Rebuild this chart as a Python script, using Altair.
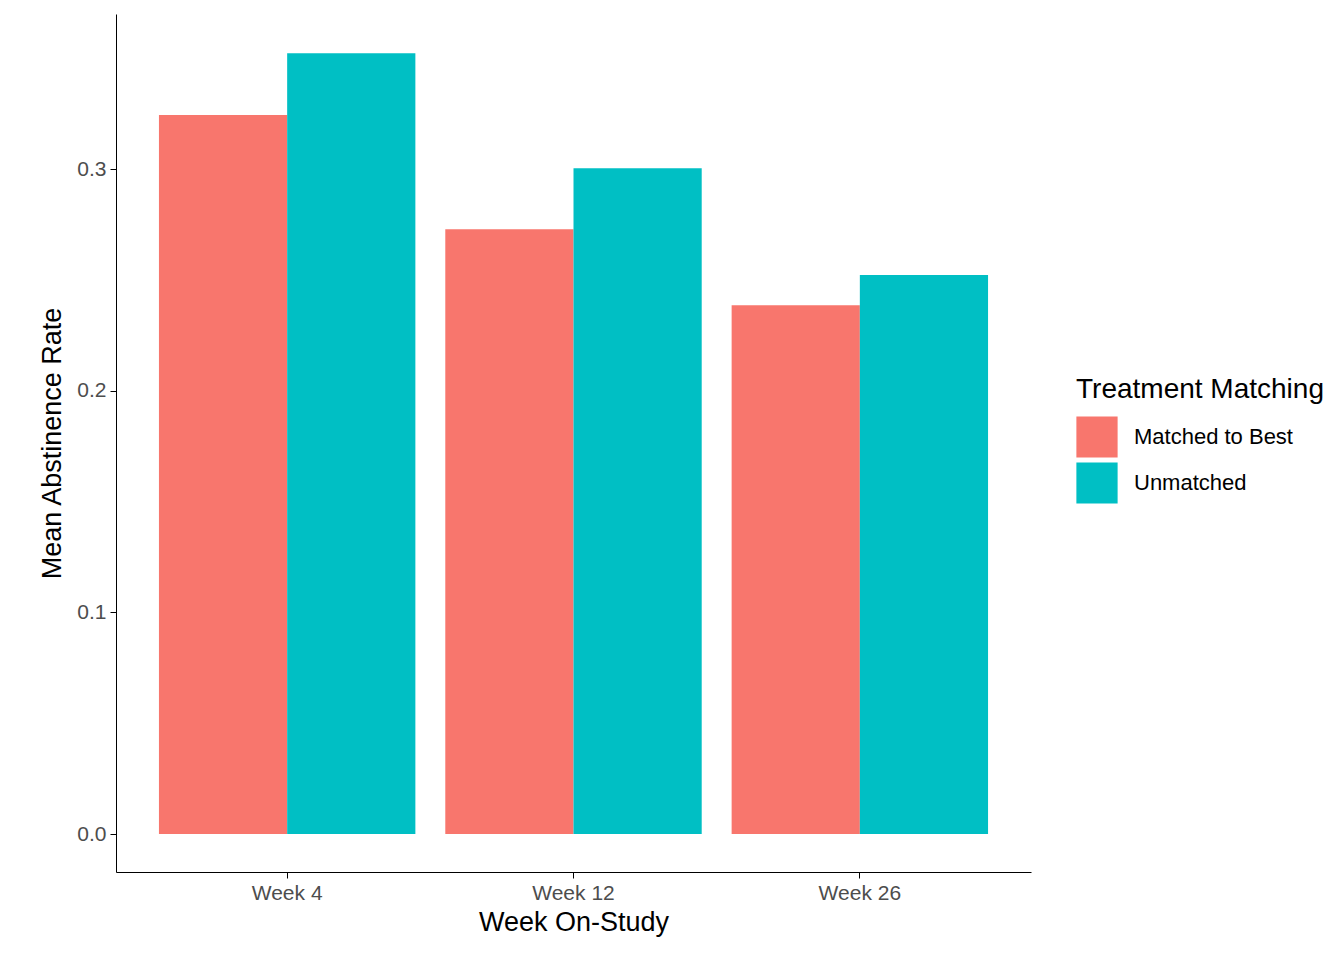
import altair as alt
import pandas as pd

weeks = ["Week 4", "Week 12", "Week 26"]
matched = [0.3244, 0.2729, 0.2386]
unmatched = [0.3523, 0.3004, 0.2522]

rows = []
for w, m, u in zip(weeks, matched, unmatched):
    rows.append({"week": w, "group": "Matched to Best", "rate": m})
    rows.append({"week": w, "group": "Unmatched", "rate": u})
df = pd.DataFrame(rows)

chart = alt.Chart(df).mark_bar().encode(
    x=alt.X("week:N", sort=weeks, title="Week On-Study",
            scale=alt.Scale(paddingInner=0.1045, paddingOuter=0.15),
            axis=alt.Axis(labelAngle=0, labelFontSize=21, titleFontSize=27,
                          labelColor="#4d4d4d", titleFontWeight="normal", titleColor="black",
                          domainColor="black", tickColor="black", tickSize=6,
                          labelPadding=4, titlePadding=6)),
    xOffset=alt.XOffset("group:N"),
    y=alt.Y("rate:Q", title="Mean Abstinence Rate",
            scale=alt.Scale(domain=[-0.0171, 0.370], nice=False, zero=False),
            axis=alt.Axis(values=[0, 0.1, 0.2, 0.3], format=".1f", grid=False,
                          labelFontSize=21, titleFontSize=27, labelColor="#4d4d4d",
                          titleFontWeight="normal", titleColor="black", domainColor="black",
                          tickColor="black", tickSize=6, labelPadding=4, titlePadding=10)),
    y2=alt.datum(0),
    color=alt.Color("group:N", title="Treatment Matching",
                    scale=alt.Scale(domain=["Matched to Best", "Unmatched"],
                                    range=["#F8766D", "#00BFC4"]),
                    legend=alt.Legend(symbolType="square", symbolSize=1700,
                                      symbolStrokeWidth=0, titleFontSize=28,
                                      titleFontWeight="normal", labelFontSize=22,
                                      labelColor="black", titleColor="black",
                                      titleLimit=400, labelLimit=400,
                                      rowPadding=4, titlePadding=12, orient="none",
                                      legendX=960, legendY=362, labelOffset=16)),
).properties(width=915, height=858, padding={"left": 30, "top": 6, "right": 5, "bottom": 5}
).configure(font="Liberation Sans").configure_view(stroke=None)

chart.save("out.html", embed_options={"renderer": "svg", "actions": False})
